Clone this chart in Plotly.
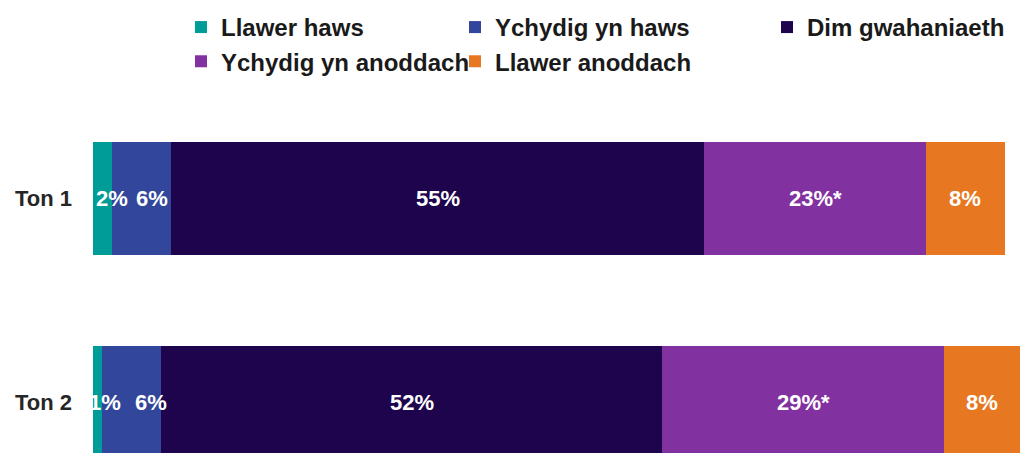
import plotly.graph_objects as go

categories = ['Ton 1', 'Ton 2']
series_names = ['Llawer haws', 'Ychydig yn haws', 'Dim gwahaniaeth', 'Ychydig yn anoddach', 'Llawer anoddach']
llawer_haws = [2.0, 0.9]
ychydig_haws = [6.1, 6.1]
dim_gwahaniaeth = [55.1, 51.9]
ychydig_anoddach = [23.0, 29.1]
llawer_anoddach = [8.1, 7.9]
label_text = [
    ['2%', '1%'],
    ['6%', '6%'],
    ['55%', '52%'],
    ['23%*', '29%*'],
    ['8%', '8%'],
]

series = [llawer_haws, ychydig_haws, dim_gwahaniaeth, ychydig_anoddach, llawer_anoddach]
colors = ['#009C97', '#32479B', '#1D044C', '#8132A0', '#E87722']
legend_ids = ['legend', 'legend2', 'legend3', 'legend', 'legend2']
# small segments: labels nudged right so they don't collide
nudge = {(0, 0): 9, (0, 1): 8, (1, 0): 10, (1, 1): 20}

FONT = 'Liberation Sans, Arial, sans-serif'

fig = go.Figure()
for i, (name, vals) in enumerate(zip(series_names, series)):
    fig.add_trace(go.Bar(y=categories, x=vals, name=name, orientation='h',
                         marker=dict(color=colors[i], line=dict(width=0)),
                         width=0.554, legend=legend_ids[i], legendgroup=name,
                         hoverinfo='skip'))

starts = [0.0] * len(categories)
for i, vals in enumerate(series):
    for j, v in enumerate(vals):
        fig.add_annotation(x=starts[j] + v / 2, y=categories[j], text=label_text[i][j],
                           showarrow=False, xshift=nudge.get((i, j), 0),
                           font=dict(family=FONT, size=22, color='white', weight='bold'))
        starts[j] += v

plot_w = 928
legend_style = dict(orientation='v', yanchor='top', xanchor='left', y=1.255,
                    bgcolor='rgba(0,0,0,0)', tracegroupgap=0,
                    font=dict(family=FONT, size=24, color='#1a1a1a', weight='bold'))

fig.update_layout(
    width=1022, height=453,
    barmode='stack',
    plot_bgcolor='white', paper_bgcolor='white',
    margin=dict(l=93, r=1, t=96, b=0, autoexpand=False),
    showlegend=True,
    legend=dict(legend_style, x=(181 - 93) / plot_w),
    legend2=dict(legend_style, x=(455 - 93) / plot_w),
    legend3=dict(legend_style, x=(767 - 93) / plot_w),
    xaxis=dict(range=[0, 96], visible=False),
    yaxis=dict(range=[1.2475, -0.5025], showgrid=False, zeroline=False, showline=False,
               ticks='', ticklabelstandoff=20,
               tickfont=dict(family=FONT, size=22, color='#262626', weight='bold')),
)

# drop the default 8px page margin so the figure fills the window exactly
fig.write_html('out.html', config={'displayModeBar': False},
               post_script="document.body.style.margin = '0px';")
